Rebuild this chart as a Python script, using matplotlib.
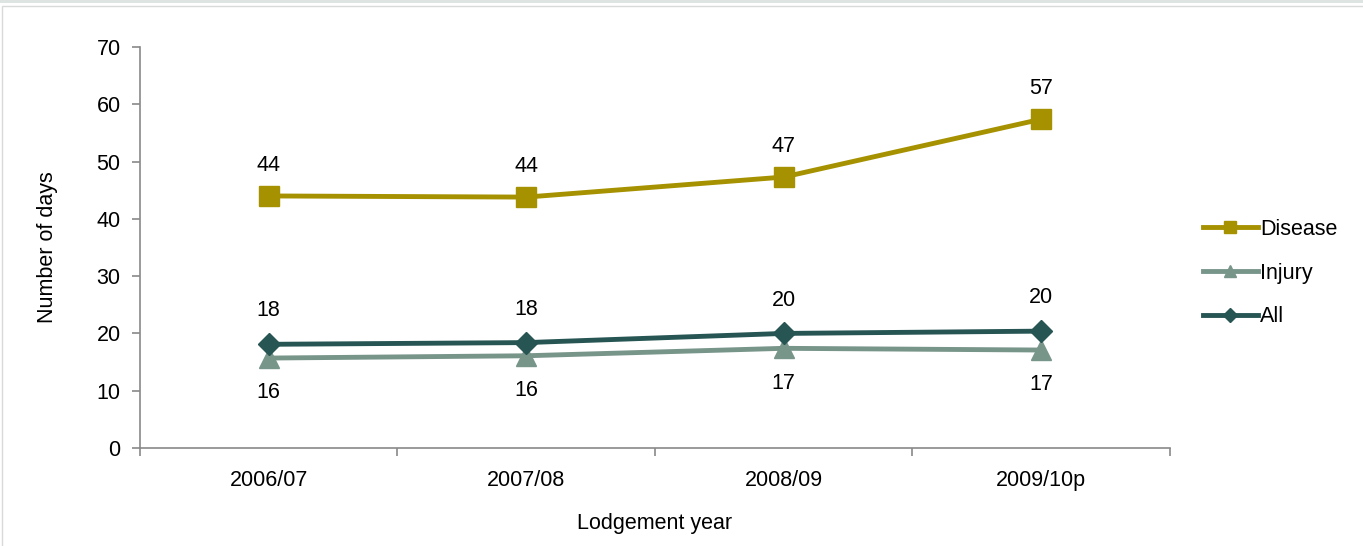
import matplotlib.pyplot as plt
from matplotlib.lines import Line2D
from matplotlib.patches import Rectangle

plt.rcParams['font.family'] = ['Liberation Sans', 'DejaVu Sans']

years = ['2006/07', '2007/08', '2008/09', '2009/10p']
disease = [44.0, 43.8, 47.3, 57.4]
injury = [15.7, 16.1, 17.4, 17.1]
all_claims = [18.1, 18.4, 20.0, 20.4]

c_dis, c_inj, c_all = '#a69200', '#78958a', '#265553'
fs = 15.5

fig = plt.figure(figsize=(13.63, 5.46), dpi=100)
ax = fig.add_axes([0.1027, 0.1795, 0.7557, 0.7344])

x = range(len(years))
ax.plot(x, disease, color=c_dis, lw=3.5, marker='s', ms=14)
ax.plot(x, injury, color=c_inj, lw=3.5, marker='^', ms=14)
ax.plot(x, all_claims, color=c_all, lw=3.5, marker='D', ms=11)

# value labels: disease and all above, injury below
for i in x:
    ax.annotate(f'{disease[i]:.0f}', (i, disease[i]), xytext=(0, 22), textcoords='offset points',
                ha='center', va='center', fontsize=fs)
    ax.annotate(f'{all_claims[i]:.0f}', (i, all_claims[i]), xytext=(0, 24), textcoords='offset points',
                ha='center', va='center', fontsize=fs)
    ax.annotate(f'{injury[i]:.0f}', (i, injury[i]), xytext=(0, -25), textcoords='offset points',
                ha='center', va='center', fontsize=fs)

ax.set_xlim(-0.5, 3.5)
ax.set_ylim(0, 70)
ax.set_yticks(range(0, 71, 10))
ax.set_xticks(x)
ax.set_xticklabels(years)
ax.set_xticks([-0.5, 0.5, 1.5, 2.5, 3.5], minor=True)
ax.tick_params(axis='x', which='major', length=0, pad=16, labelsize=fs)
ax.tick_params(axis='x', which='minor', length=6, color='#898989', width=1.2)
ax.tick_params(axis='y', length=6, color='#898989', width=1.2, pad=8, labelsize=fs)

for side in ['top', 'right']:
    ax.spines[side].set_visible(False)
for side in ['left', 'bottom']:
    ax.spines[side].set_color('#898989')
    ax.spines[side].set_linewidth(1.2)

ax.set_xlabel('Lodgement year', fontsize=fs, labelpad=16)
ax.set_ylabel('Number of days', fontsize=fs, labelpad=28)

handles = [
    Line2D([], [], color=c_dis, lw=3.5, marker='s', ms=8),
    Line2D([], [], color=c_inj, lw=3.5, marker='^', ms=8),
    Line2D([], [], color=c_all, lw=3.5, marker='D', ms=7),
]
fig.legend(handles, ['Disease', 'Injury', 'All'], loc='center left',
           bbox_to_anchor=(0.8826, 0.5000), frameon=False, fontsize=fs,
           handlelength=2.55, handletextpad=0.1, labelspacing=1.05,
           borderpad=0, borderaxespad=0)

# band and frame around the chart area
fig.add_artist(Rectangle((0, 0.994), 1, 0.006, transform=fig.transFigure,
                         facecolor='#dde4e1', edgecolor='none'))
fig.add_artist(Rectangle((0.0015, -0.01), 1.1, 0.999, transform=fig.transFigure,
                         facecolor='none', edgecolor='#d9d9d9', lw=1))

fig.savefig('out.png', dpi=100)
